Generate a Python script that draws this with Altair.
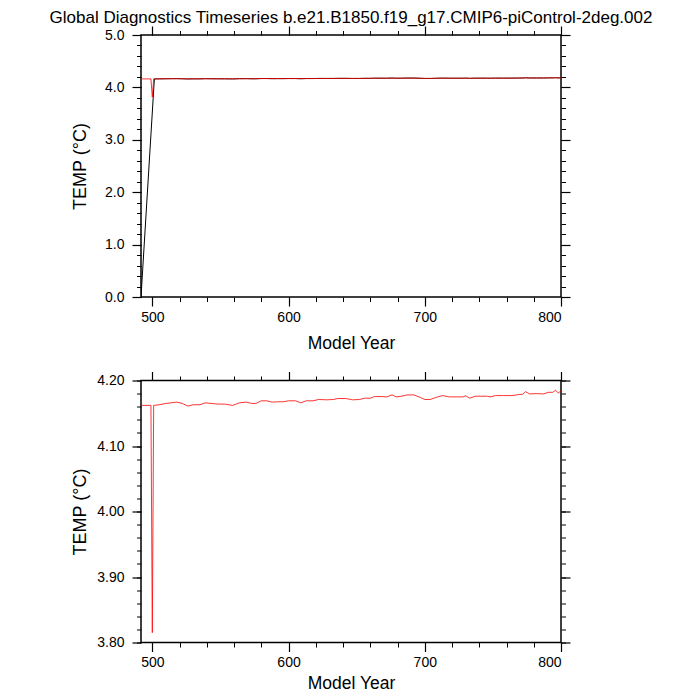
import altair as alt
import pandas as pd

TITLE = "Global Diagnostics Timeseries b.e21.B1850.f19_g17.CMIP6-piControl-2deg.002"

red_years = [492, 499, 500, 501, 505, 510, 514, 518, 522, 526, 530, 535, 539, 543, 548,
             553, 559, 564, 569, 573, 576, 580, 584, 588, 592, 596, 600, 605, 609, 613,
             618, 622, 628, 633, 636, 642, 647, 652, 656, 660, 663, 668, 672, 676, 679,
             683, 687, 692, 697, 700, 704, 708, 713, 718, 723, 728, 730, 733, 737, 742,
             746, 748, 752, 758, 764, 769, 772, 774, 777, 782, 787, 791, 794, 796, 798, 800]
red_values = [4.162, 4.162, 3.815, 4.162, 4.163, 4.165, 4.166, 4.167, 4.165, 4.161, 4.163,
              4.163, 4.166, 4.165, 4.164, 4.164, 4.162, 4.166, 4.167, 4.165, 4.165, 4.169,
              4.169, 4.167, 4.1675, 4.1675, 4.169, 4.169, 4.166, 4.169, 4.169, 4.171, 4.1705,
              4.171, 4.1725, 4.1725, 4.1705, 4.171, 4.173, 4.173, 4.1755, 4.1755, 4.175,
              4.178, 4.175, 4.176, 4.178, 4.178, 4.174, 4.171, 4.171, 4.174, 4.177, 4.175,
              4.175, 4.175, 4.1767, 4.173, 4.176, 4.176, 4.176, 4.175, 4.177, 4.177, 4.177,
              4.1785, 4.179, 4.183, 4.1795, 4.180, 4.1795, 4.182, 4.182, 4.185, 4.181, 4.184]

black_years = [491.7, 501.5] + red_years[4:]
black_values = [0.0, 4.162] + red_values[4:]

X_DOMAIN = [491.7, 800]
x_major = [500, 600, 700, 800]
x_minor = [500, 520, 540, 560, 580, 600, 620, 640, 660, 680, 700, 720, 740, 760, 780, 800]
top_y_major = [0.0, 1.0, 2.0, 3.0, 4.0, 5.0]
top_y_minor = [round(i * 0.2, 1) for i in range(26)]
bot_y_major = [3.8, 3.9, 4.0, 4.1, 4.2]
bot_y_minor = [round(3.8 + i * 0.02, 2) for i in range(21)]

red_df = pd.DataFrame({"year": red_years, "temp": red_values})
black_df = pd.DataFrame({"year": black_years, "temp": black_values})

FONT = "Liberation Sans"


def axis(orient, values, major, labels=False, title=None, fmt=None, label_pad=4,
         title_pad=10, title_size=17.5):
    kw = dict(orient=orient, values=values, tickSize=9 if major else 4.5,
              tickWidth=1.2 if major else 1, tickColor="black", domain=False, grid=False,
              labels=labels)
    if labels:
        kw.update(labelFont=FONT, labelFontSize=14, labelColor="black",
                  labelPadding=label_pad, format=fmt)
    if title:
        kw.update(title=title, titleFont=FONT, titleFontSize=title_size,
                  titleFontWeight="normal", titleColor="black", titlePadding=title_pad)
    else:
        kw.update(title=None)
    return alt.Axis(**kw)


def panel(ydomain, ymaj, ymin, fmt, include_black, x_tpad, y_tpad):
    xs = alt.Scale(domain=X_DOMAIN, nice=False, zero=False)
    ys = alt.Scale(domain=ydomain, nice=False, zero=False)

    def enc(ch, xax, yax):
        return ch.encode(x=alt.X("year:Q", scale=xs, axis=xax),
                         y=alt.Y("temp:Q", scale=ys, axis=yax))

    red = alt.Chart(red_df).mark_line(color="#ff0000", strokeWidth=0.8, clip=True)
    ghost = alt.Chart(red_df).mark_line(color="#ff0000", strokeWidth=1, opacity=0, clip=True)
    x_lab = axis("bottom", x_major, True, labels=True, title="Model Year", fmt="d",
                 label_pad=4, title_pad=x_tpad, title_size=17.5)
    y_lab = axis("left", ymaj, True, labels=True, title="TEMP (°C)", fmt=fmt,
                 label_pad=8, title_pad=y_tpad, title_size=18)
    layers = []
    if include_black:
        black = alt.Chart(black_df).mark_line(color="black", strokeWidth=1, clip=True)
        layers.append(enc(black, x_lab, y_lab))
        layers.append(enc(red, axis("bottom", x_minor, False), axis("left", ymin, False)))
    else:
        layers.append(enc(red, x_lab, y_lab))
        layers.append(enc(ghost, axis("bottom", x_minor, False), axis("left", ymin, False)))
    layers.append(enc(ghost, axis("top", x_major, True), axis("right", ymaj, True)))
    layers.append(enc(ghost, axis("top", x_minor, False), axis("right", ymin, False)))
    return alt.layer(*layers).resolve_axis(x="independent", y="independent").properties(
        width=420, height=262)


top = panel([0.0, 5.0], top_y_major, top_y_minor, ".1f", True, 10, 15).properties(
    title=alt.TitleParams(TITLE, anchor="middle", frame="group", font=FONT, fontSize=17,
                          fontWeight="normal", color="black", offset=-2))
bottom = panel([3.8, 4.2], bot_y_major, bot_y_minor, ".2f", False, 5, 7.5)

chart = alt.vconcat(top, bottom, spacing=83.5, bounds="flush").properties(
    padding={"left": 40, "top": 0, "right": 0, "bottom": 0},
).configure_view(stroke="black", strokeWidth=1.5)

chart.save("out.html", embed_options={"renderer": "svg", "actions": False})
